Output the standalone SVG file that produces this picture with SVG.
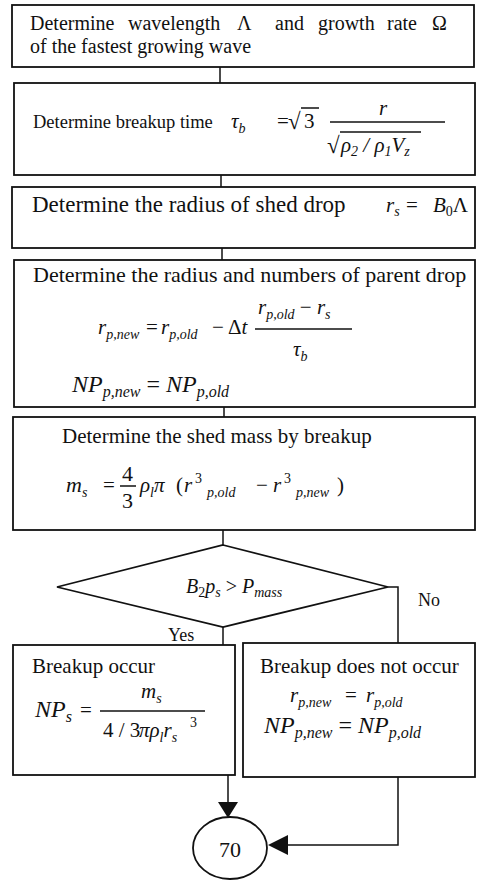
<svg xmlns="http://www.w3.org/2000/svg" width="500" height="880" viewBox="0 0 500 880">
<defs>
<style>
.box{fill:#fff;stroke:#111;stroke-width:1.8}
.ln{stroke:#111;stroke-width:1.5;fill:none}
.ah{fill:#111;stroke:none}
.t{font-family:"Liberation Serif","Times New Roman",serif;font-size:21px;fill:#111}
.i{font-style:italic}
.s{font-size:14px}
.b{font-size:24px}
.bs{font-size:16px}
</style>
</defs>
<rect width="500" height="880" fill="#fff"/>
<g id="connectors">
<line class="ln" x1="220" y1="67" x2="220" y2="83"/>
<line class="ln" x1="221" y1="175" x2="221" y2="187"/>
<line class="ln" x1="222" y1="248" x2="222" y2="260"/>
<line class="ln" x1="224" y1="407" x2="224" y2="417"/>
<line class="ln" x1="223" y1="530" x2="223" y2="545"/>
<line class="ln" x1="223" y1="627" x2="223" y2="645"/>
<polyline class="ln" points="388,587 398,587 398,643"/>
<line class="ln" x1="228" y1="775" x2="228" y2="803"/>
<polygon class="ah" points="218,802 238,802 228,818"/>
<polyline class="ln" points="398,777 398,845 287,845"/>
<polygon class="ah" points="288,835 288,855 268,845"/>
<text class="t" x="168" y="641" style="font-size:18px">Yes</text>
<text class="t" x="418" y="606" style="font-size:18px">No</text>
</g>
<g id="n1">
<rect class="box" x="12" y="5" width="462" height="62"/>
<text class="t" x="30" y="30" style="font-size:20px">Determine<tspan x="128">wavelength</tspan><tspan x="237">Λ</tspan><tspan x="275">and</tspan><tspan x="318">growth</tspan><tspan x="387">rate</tspan><tspan x="432">Ω</tspan></text>
<text class="t" x="30" y="53" style="font-size:20px">of the fastest growing wave</text>
</g>
<g id="n2">
<rect class="box" x="14" y="83" width="461" height="92"/>
<text class="t" x="33" y="128" style="font-size:18.5px">Determine breakup time</text>
<text class="t i" x="231" y="128">τ<tspan class="s" dy="5">b</tspan></text>
<text class="t" x="277" y="128">=</text>
<text class="t" x="288" y="129" style="font-size:23px">√</text>
<line class="ln" x1="301" y1="108" x2="319" y2="108" stroke-width="1.2"/>
<text class="t" x="304" y="128">3</text>
<text class="t i" x="379" y="115">r</text>
<line class="ln" x1="330" y1="122" x2="445" y2="122" stroke-width="1.2"/>
<text class="t" x="327" y="153" style="font-size:23px">√</text>
<line class="ln" x1="340" y1="132" x2="421" y2="132" stroke-width="1.2"/>
<text class="t i" x="341" y="152">ρ<tspan class="s" dy="4">2</tspan><tspan dy="-4"> / ρ</tspan><tspan class="s" dy="4">1</tspan><tspan dy="-4">V</tspan><tspan class="s" dy="4">z</tspan></text>
</g>
<g id="n3">
<rect class="box" x="12" y="187" width="463" height="61"/>
<text class="t" x="32" y="212" style="font-size:23px">Determine the radius of shed drop</text>
<text class="t i" x="386" y="212">r<tspan class="s" dy="4">s</tspan></text>
<text class="t" x="406" y="212">=</text>
<text class="t i" x="433" y="212">B<tspan class="s" dy="4" font-style="normal">0</tspan><tspan dy="-4" font-style="normal">Λ</tspan></text>
</g>
<g id="n4">
<rect class="box" x="14" y="260" width="461" height="147"/>
<text class="t" x="33" y="282" style="font-size:22px">Determine the radius and numbers of parent drop</text>
<text class="t i" x="98" y="334">r<tspan class="s" dy="5">p,new</tspan></text>
<text class="t" x="146" y="334">=</text>
<text class="t i" x="161" y="334">r<tspan class="s" dy="5">p,old</tspan></text>
<text class="t" x="212" y="334">− Δ<tspan font-style="italic">t</tspan></text>
<text class="t i" x="258" y="314">r<tspan class="s" dy="5">p,old</tspan><tspan dy="-5" font-style="normal"> − </tspan>r<tspan class="s" dy="5">s</tspan></text>
<line class="ln" x1="255" y1="329" x2="352" y2="329" stroke-width="1.2"/>
<text class="t i" x="293" y="356">τ<tspan class="s" dy="5">b</tspan></text>
<text class="t i b" x="72" y="392">NP<tspan class="bs" dy="5">p,new</tspan><tspan dy="-5" font-style="normal"> = </tspan>NP<tspan class="bs" dy="5">p,old</tspan></text>
</g>
<g id="n5">
<rect class="box" x="13" y="417" width="462" height="113"/>
<text class="t" x="62" y="443">Determine the shed mass by breakup</text>
<text class="t i" x="66" y="492" style="font-size:22px">m<tspan class="s" dy="5">s</tspan></text>
<text class="t" x="103" y="492">=</text>
<text class="t" x="122" y="481" style="font-size:22px">4</text>
<line class="ln" x1="120" y1="486" x2="136" y2="486" stroke-width="1.2"/>
<text class="t" x="122" y="508" style="font-size:22px">3</text>
<text class="t i" x="140" y="492">ρ<tspan class="s" dy="5">l</tspan><tspan dy="-5">π</tspan></text>
<text class="t" x="176" y="492">(</text>
<text class="t i" x="184" y="492">r</text>
<text class="t s" x="195" y="483">3</text>
<text class="t i s" x="207" y="497">p,old</text>
<text class="t" x="256" y="492">−</text>
<text class="t i" x="273" y="492">r</text>
<text class="t s" x="284" y="483">3</text>
<text class="t i s" x="296" y="497">p,new</text>
<text class="t" x="337" y="492">)</text>
</g>
<g id="n6">
<polygon class="box" points="223,545 388,587 223,627 57,587"/>
<text class="t i" x="186" y="593" style="font-size:20px">B<tspan class="s" dy="4" font-style="normal">2</tspan><tspan dy="-4">p</tspan><tspan class="s" dy="4">s</tspan><tspan dy="-4" font-style="normal"> &gt; </tspan>P<tspan class="s" dy="4">mass</tspan></text>
</g>
<g id="n7">
<rect class="box" x="13" y="645" width="222" height="130"/>
<text class="t" x="32" y="673">Breakup occur</text>
<text class="t i b" x="35" y="717">NP<tspan class="bs" dy="5">s</tspan></text>
<text class="t" x="80" y="717">=</text>
<text class="t i" x="141" y="698">m<tspan class="s" dy="5">s</tspan></text>
<line class="ln" x1="100" y1="711" x2="205" y2="711" stroke-width="1.2"/>
<text class="t" x="103" y="737">4 / 3</text>
<text class="t i" x="139" y="737">πρ<tspan class="s" dy="5">l</tspan><tspan dy="-5">r</tspan><tspan class="s" dy="5">s</tspan></text>
<text class="t s" x="190" y="727">3</text>
</g>
<g id="n8">
<rect class="box" x="243" y="643" width="232" height="134"/>
<text class="t" x="260" y="673">Breakup does not occur</text>
<text class="t i" x="290" y="702">r<tspan class="s" dy="5">p,new</tspan></text>
<text class="t" x="345" y="702">=</text>
<text class="t i" x="366" y="702">r<tspan class="s" dy="5">p,old</tspan></text>
<text class="t i b" x="264" y="733">NP<tspan class="bs" dy="5">p,new</tspan><tspan dy="-5" font-style="normal"> = </tspan>NP<tspan class="bs" dy="5">p,old</tspan></text>
</g>
<g id="n9">
<ellipse class="box" cx="230" cy="848" rx="37" ry="31"/>
<text class="t" x="230" y="857" text-anchor="middle" style="font-size:22px">70</text>
</g>
</svg>
